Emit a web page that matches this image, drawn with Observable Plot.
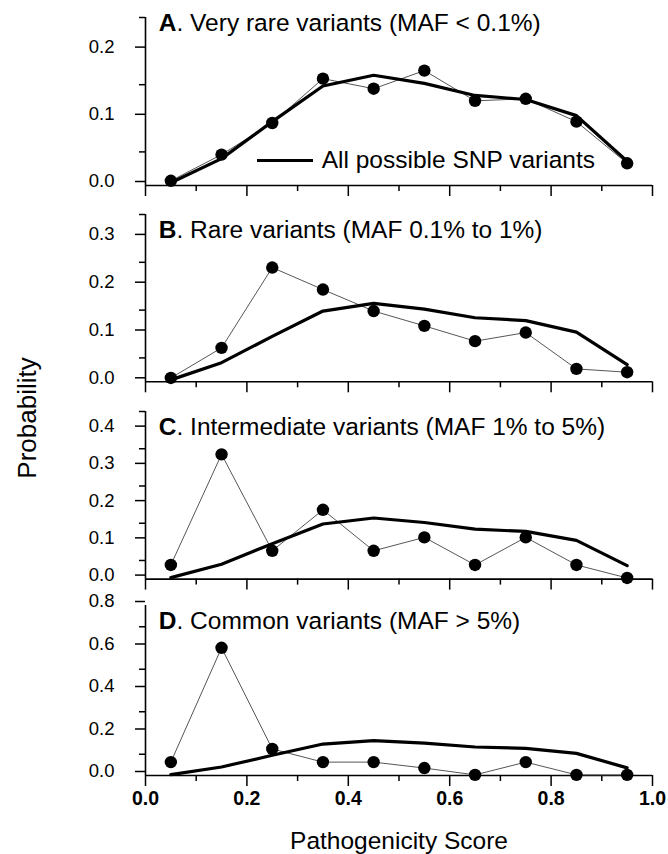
<!DOCTYPE html>
<html><head><meta charset="utf-8">
<script src="https://cdn.jsdelivr.net/npm/d3@7"></script>
<script src="https://cdn.jsdelivr.net/npm/@observablehq/plot@0.6"></script>
<style>
body{margin:0;background:#fff;}
#chart{position:relative;width:668px;height:854px;font-family:"Liberation Sans",Arial,sans-serif;color:#000;overflow:hidden;}
#chart svg{position:absolute;left:0;overflow:visible;}
.ylab{position:absolute;left:27px;top:418px;transform:translate(-50%,-50%) rotate(-90deg);font-size:26px;white-space:nowrap;line-height:1;}
.legend{position:absolute;left:256.7px;top:147.6px;font-size:24.5px;line-height:1;white-space:nowrap;}
.legend .sw{position:absolute;left:0;top:11px;width:56.6px;height:3px;background:#000;}
.legend .lt{position:absolute;left:65px;top:0;}
</style></head><body><div id="chart"></div>
<script>
// ---- data ----
const scores = [0.05, 0.15, 0.25, 0.35, 0.45, 0.55, 0.65, 0.75, 0.85, 0.95];
const allSNP = [0.004, 0.040, 0.095, 0.148, 0.164, 0.152, 0.134, 0.128, 0.104, 0.036];
const veryRare = [0.007, 0.046, 0.093, 0.159, 0.144, 0.171, 0.126, 0.129, 0.095, 0.033];
const rare = [0.008, 0.071, 0.239, 0.193, 0.148, 0.117, 0.085, 0.103, 0.027, 0.020];
const intermediate = [0.038, 0.335, 0.076, 0.186, 0.076, 0.112, 0.038, 0.112, 0.038, 0.003];
const common = [0.063, 0.601, 0.125, 0.063, 0.063, 0.035, 0.003, 0.063, 0.003, 0.003];
const panelLetters = ["A", "B", "C", "D"];
const panelTitles = [
  ". Very rare variants (MAF < 0.1%)",
  ". Rare variants (MAF 0.1% to 1%)",
  ". Intermediate variants (MAF 1% to 5%)",
  ". Common variants (MAF > 5%)"
];
const yMax = [0.25, 0.35, 0.45, 0.8];
const yMajor = [[0, 0.1, 0.2], [0, 0.1, 0.2, 0.3], [0, 0.1, 0.2, 0.3, 0.4], [0, 0.2, 0.4, 0.6, 0.8]];
const yMinor = [[0.05, 0.15, 0.25], [0.05, 0.15, 0.25, 0.35], [0.05, 0.15, 0.25, 0.35, 0.45], [0.1, 0.3, 0.5, 0.7]];
const xMajor = [0, 0.2, 0.4, 0.6, 0.8, 1.0];
const xMinor = [0.1, 0.3, 0.5, 0.7, 0.9];
const legendLabel = "All possible SNP variants";
const xLabel = "Pathogenicity Score";
const yLabel = "Probability";

// ---- layout (pixels) ----
const layout = [
  {top: 17, bottom: 185, titleDy: -3.5},
  {top: 214.4, bottom: 381.7, titleDy: 6.5},
  {top: 410.7, bottom: 578.3, titleDy: 6.5},
  {top: 605, bottom: 775, titleDy: 6.5}
];
const TITLE_SIZE = 24.5;
const FONT = '"Liberation Sans", Arial, sans-serif';
const chart = document.getElementById("chart");
const series = [veryRare, rare, intermediate, common];

series.forEach((vals, i) => {
  const L = layout[i];
  const last = i === series.length - 1;
  const mt = Math.min(20, L.top);
  const mb = last ? 854 - L.bottom : 14;
  const h = mt + (L.bottom - L.top) + mb;
  const obs = scores.map((s, j) => ({score: s, p: vals[j]}));
  const ref = scores.map((s, j) => ({score: s, p: allSNP[j]}));
  const marks = [
    Plot.axisY({ticks: yMajor[i], tickSize: 10, tickPadding: 21, tickFormat: ".1f", label: null, fontSize: 18.5, dy: -4, strokeWidth: 1.5}),
    Plot.axisY({ticks: yMinor[i], tickSize: 6, fill: "none", label: null, strokeWidth: 1.5}),
    Plot.axisX({ticks: xMajor, tickSize: 11, tickPadding: 5, tickFormat: ".1f", label: null, fontSize: 19.5, fontWeight: "bold", strokeWidth: 1.5, fill: last ? "currentColor" : "none"}),
    Plot.axisX({ticks: xMinor, tickSize: 6, fill: "none", label: null, strokeWidth: 1.5}),
    Plot.ruleX([0], {strokeWidth: 1.6}),
    Plot.ruleY([0], {strokeWidth: 1.6}),
    Plot.line(obs, {x: "score", y: "p", stroke: "#555", strokeWidth: 1}),
    Plot.dot(obs, {x: "score", y: "p", r: 6.2, fill: "#000", stroke: "none"}),
    Plot.line(ref, {x: "score", y: "p", stroke: "#000", strokeWidth: 3.2}),
    Plot.text([panelLetters[i]], {text: d => d, frameAnchor: "top-left", dx: 13.3, dy: L.titleDy, lineAnchor: "top", textAnchor: "start", fontWeight: "bold", fontSize: TITLE_SIZE}),
    Plot.text([panelTitles[i]], {text: d => d, frameAnchor: "top-left", dx: 13.3 + 0.722 * TITLE_SIZE, dy: L.titleDy, lineAnchor: "top", textAnchor: "start", fontSize: TITLE_SIZE})
  ];
  if (last) {
    marks.push(Plot.text([xLabel], {text: d => d, frameAnchor: "bottom", dy: 56, lineAnchor: "top", fontSize: 24.5}));
  }
  const svg = Plot.plot({
    width: 668, height: h,
    marginLeft: 145, marginRight: 16, marginTop: mt, marginBottom: mb,
    style: {fontFamily: FONT, fontSize: "18px", color: "#000", background: "transparent", overflow: "visible"},
    x: {domain: [0, 1]},
    y: {domain: [0, yMax[i]]},
    marks
  });
  svg.style.top = (L.top - mt) + "px";
  chart.appendChild(svg);
});

const yl = document.createElement("div");
yl.className = "ylab";
yl.textContent = yLabel;
chart.appendChild(yl);

const lg = document.createElement("div");
lg.className = "legend";
lg.innerHTML = '<span class="sw"></span><span class="lt"></span>';
lg.querySelector(".lt").textContent = legendLabel;
chart.appendChild(lg);
</script>
</body></html>
